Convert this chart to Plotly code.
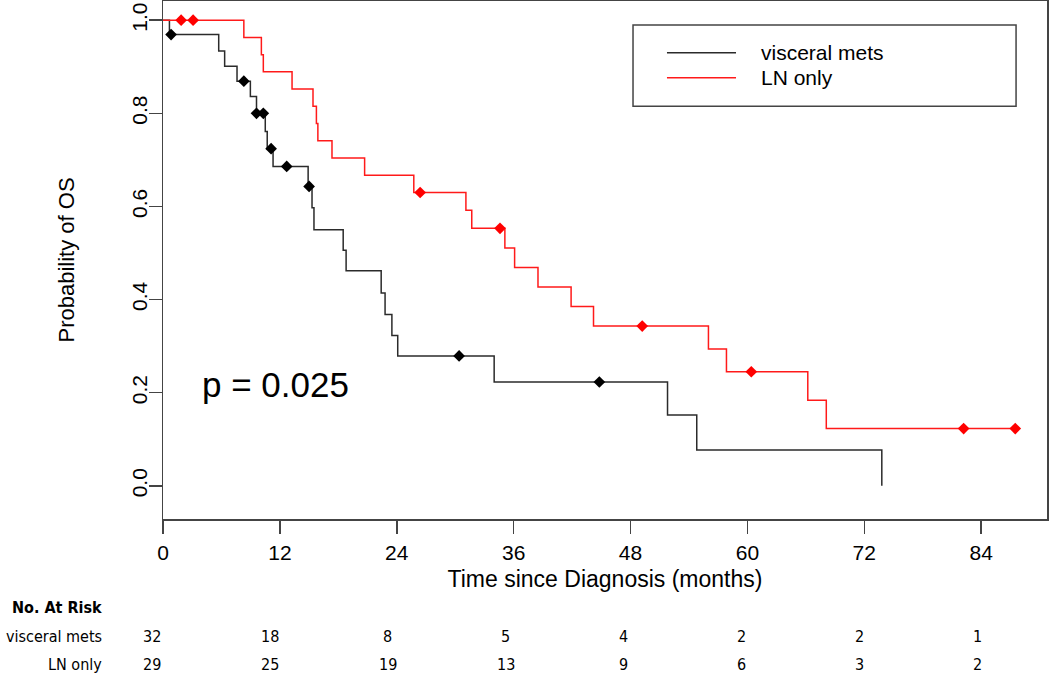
import plotly.graph_objects as go

# ---------------- data ----------------
visc_t = [0, 0.66, 5.72, 6.33, 7.6, 8.97, 9.6, 10.5, 10.7, 11.3, 14.9, 15.3, 15.5,
          18.5, 18.8, 22.4, 22.8, 23.5, 24.1, 34.0, 51.8, 54.8, 73.8]
visc_s = [1.0, 0.969, 0.934, 0.901, 0.869, 0.836, 0.800, 0.761, 0.724, 0.686, 0.643, 0.597, 0.550,
          0.506, 0.462, 0.414, 0.368, 0.323, 0.279, 0.223, 0.152, 0.077, 0.0]
visc_cens_t = [0.83, 8.3, 9.6, 10.3, 11.1, 12.7, 15.0, 30.4, 44.8]
visc_cens_s = [0.969, 0.869, 0.800, 0.800, 0.724, 0.686, 0.643, 0.279, 0.223]

ln_t = [0, 8.3, 10.1, 10.3, 13.25, 15.4, 15.75, 15.9, 17.35, 20.7, 25.75, 31.1, 31.7,
        35.1, 36.1, 38.5, 41.9, 44.2, 56.0, 57.85, 66.2, 68.1, 87.5]
ln_s = [1.0, 0.963, 0.926, 0.889, 0.852, 0.815, 0.778, 0.741, 0.704, 0.667, 0.630, 0.592, 0.553,
        0.511, 0.469, 0.427, 0.385, 0.343, 0.294, 0.245, 0.184, 0.123, 0.123]
ln_cens_t = [1.86, 3.09, 26.4, 34.6, 49.2, 60.4, 82.2, 87.5]
ln_cens_s = [1.0, 1.0, 0.630, 0.553, 0.343, 0.245, 0.123, 0.123]

risk_times = [0, 12, 24, 36, 48, 60, 72, 84]
risk_visc = [32, 18, 8, 5, 4, 2, 2, 1]
risk_ln = [29, 25, 19, 13, 9, 6, 3, 2]

x_ticks = [0, 12, 24, 36, 48, 60, 72, 84]
y_ticks = [0.0, 0.2, 0.4, 0.6, 0.8, 1.0]
y_tick_labels = ["0.0", "0.2", "0.4", "0.6", "0.8", "1.0"]

names = ["visceral mets", "LN only"]
p_text = "p = 0.025"

BLACK = "#2b2b2b"
RED = "#ff1a1a"
FONT = "Liberation Sans, Arial, sans-serif"
NARROW = "Liberation Sans Narrow, Arial Narrow, DejaVu Sans Condensed, Liberation Sans, sans-serif"

fig = go.Figure()
fig.add_trace(go.Scatter(x=visc_t, y=visc_s, mode="lines", line=dict(color=BLACK, width=1.5, shape="hv"),
                         name=names[0], showlegend=False, hoverinfo="skip"))
fig.add_trace(go.Scatter(x=ln_t, y=ln_s, mode="lines", line=dict(color=RED, width=1.5, shape="hv"),
                         name=names[1], showlegend=False, hoverinfo="skip"))
fig.add_trace(go.Scatter(x=visc_cens_t, y=visc_cens_s, mode="markers",
                         marker=dict(symbol="diamond", size=9, color="black"), showlegend=False,
                         hoverinfo="skip"))
fig.add_trace(go.Scatter(x=ln_cens_t, y=ln_cens_s, mode="markers",
                         marker=dict(symbol="diamond", size=9, color="red"), showlegend=False,
                         hoverinfo="skip"))

# manual R-style legend box
L_X0, L_X1, L_Y0, L_Y1 = 0.5317, 0.9650, 0.797, 0.9537
fig.add_shape(type="rect", xref="paper", yref="paper", x0=L_X0, x1=L_X1, y0=L_Y0, y1=L_Y1,
              line=dict(color="#444", width=1.5), fillcolor="white")
leg_y = [0.9000, 0.8517]
leg_col = [BLACK, RED]
for nm, yy, cc in zip(names, leg_y, leg_col):
    fig.add_shape(type="line", xref="paper", yref="paper", x0=0.5701, x1=0.6482, y0=yy, y1=yy,
                  line=dict(color=cc, width=1.5))
    fig.add_annotation(xref="paper", yref="paper", x=0.6740, y=yy, text=nm, showarrow=False,
                       xanchor="left", yanchor="middle", font=dict(family=FONT, size=21, color="black"))

# p-value
fig.add_annotation(x=11.55, y=0.218, xref="x", yref="y", text=p_text, showarrow=False,
                   font=dict(family=FONT, size=35, color="black"))

# number at risk table
fig.add_annotation(xref="paper", yref="paper", x=-0.067, y=-0.170, text="<b>No. At Risk</b>",
                   showarrow=False, xanchor="right", yanchor="middle",
                   font=dict(family=NARROW, size=16, color="black"))
for label, vals, yy in [(names[0], risk_visc, -0.226), (names[1], risk_ln, -0.280)]:
    fig.add_annotation(xref="paper", yref="paper", x=-0.067, y=yy, text=label, showarrow=False,
                       xanchor="right", yanchor="middle", font=dict(family=NARROW, size=16, color="black"))
    for i, (t, v) in enumerate(zip(risk_times, vals)):
        fig.add_annotation(xref="x", yref="paper", x=t, y=yy, text=str(v), showarrow=False,
                           xshift=-11 + i, xanchor="center", yanchor="middle",
                           font=dict(family=NARROW, size=16, color="black"))

fig.update_layout(
    width=1050, height=677,
    margin=dict(l=163, r=3, t=1, b=158, autoexpand=False),
    paper_bgcolor="white", plot_bgcolor="white",
    font=dict(family=FONT, size=21, color="black"),
    hovermode=False,
)
fig.update_xaxes(range=[0, 90.76], tickvals=x_ticks, ticktext=[str(v) for v in x_ticks],
                 showgrid=False, zeroline=False, showline=True, linecolor="#444", linewidth=1.5,
                 mirror=True, ticks="outside", ticklen=13, tickwidth=1.5, tickcolor="#444",
                 tickfont=dict(family=FONT, size=21), ticklabelstandoff=1, automargin=False,
                 title=dict(text="Time since Diagnosis (months)", font=dict(family=FONT, size=23), standoff=8))
fig.update_yaxes(range=[-0.0712, 1.0412], tickvals=y_ticks, ticktext=y_tick_labels,
                 showgrid=False, zeroline=False, showline=True, linecolor="#444", linewidth=1.5,
                 mirror=True, ticks="outside", ticklen=13, tickwidth=1.5, tickcolor="#444",
                 tickangle=-90, tickfont=dict(family=FONT, size=21), ticklabelstandoff=-7, automargin=False,
                 title=dict(text="Probability of OS", font=dict(family=FONT, size=22), standoff=47))

fig.write_html("out.html", config={"displayModeBar": False, "staticPlot": True},
               post_script="document.body.style.margin='0';document.body.style.padding='0';"
                           "document.documentElement.style.overflow='hidden';")
